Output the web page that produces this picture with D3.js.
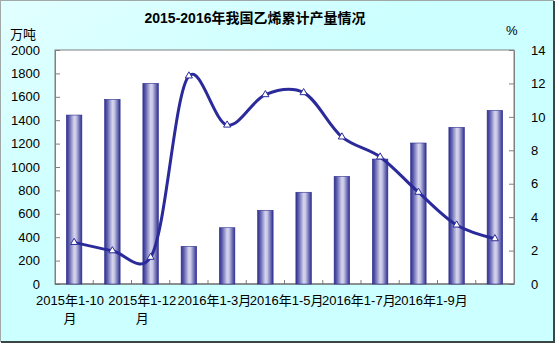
<!DOCTYPE html>
<html>
<head>
<meta charset="utf-8">
<script src="https://cdn.jsdelivr.net/npm/d3@7"></script>
<style>
  body { margin: 0; }
  text { font-family: "Liberation Sans", Arial, "Noto Sans CJK SC", sans-serif; }
</style>
</head>
<body>
<div id="chart"></div>
<script>
const months = ["2015年1-10月", "2015年1-11月", "2015年1-12月", "2016年1-2月", "2016年1-3月", "2016年1-4月",
                "2016年1-5月", "2016年1-6月", "2016年1-7月", "2016年1-8月", "2016年1-9月", "2016年1-10月"];
const output = [1444, 1578, 1715, 322, 481, 630, 784, 920, 1068, 1205, 1339, 1484];
const growth = [2.49, 1.99, 1.6, 12.45, 9.51, 11.33, 11.45, 8.8, 7.6, 5.49, 3.53, 2.71];
const leftTicks = [0, 200, 400, 600, 800, 1000, 1200, 1400, 1600, 1800, 2000];
const rightTicks = [0, 2, 4, 6, 8, 10, 12, 14];
const shownLabels = [["2015年1-10", "月"], ["2015年1-12", "月"], ["2016年1-3月"], ["2016年1-5月"], ["2016年1-7月"], ["2016年1-9月"]];

const W = 555, H = 343;
const margin = { top: 50, right: 41, bottom: 59, left: 55 };
const width = W - margin.left - margin.right;
const height = H - margin.top - margin.bottom;

const root = d3.select("#chart").append("svg")
    .attr("width", W)
    .attr("height", H);

const defs = root.append("defs");
const bg = defs.append("linearGradient").attr("id", "bg")
    .attr("x1", "0").attr("y1", "0").attr("x2", "1").attr("y2", "1");
bg.append("stop").attr("offset", "0%").attr("stop-color", "#e2ffff");
bg.append("stop").attr("offset", "40%").attr("stop-color", "#ccffff");
bg.append("stop").attr("offset", "100%").attr("stop-color", "#ccffff");

const barGrad = defs.append("linearGradient").attr("id", "barGrad")
    .attr("x1", "0").attr("y1", "0").attr("x2", "1").attr("y2", "0");
[["0%", "#2e2e90"], ["18%", "#6060ae"], ["50%", "#d4d4ee"], ["62%", "#c8c8e6"], ["85%", "#6868b2"], ["100%", "#2e2e90"]]
    .forEach(s => barGrad.append("stop").attr("offset", s[0]).attr("stop-color", s[1]));

// outer frame
root.append("rect").attr("x", 0.5).attr("y", 0.5).attr("width", W - 2).attr("height", H - 2)
    .attr("fill", "url(#bg)").attr("stroke", "#a0a8a8");
root.append("path").attr("d", `M1,${H - 1}H${W - 1}V1`).attr("fill", "none")
    .attr("stroke", "#3c4444").attr("stroke-width", 2);

root.append("text")
    .attr("x", 255).attr("y", 23)
    .attr("text-anchor", "middle")
    .attr("font-size", 14).attr("font-weight", "bold")
    .text("2015-2016年我国乙烯累计产量情况");

root.append("text").attr("x", 10).attr("y", 39).attr("font-size", 13).text("万吨");
root.append("text").attr("x", 506).attr("y", 35).attr("font-size", 13).text("%");

const svg = root.append("g").attr("transform", `translate(${margin.left},${margin.top})`);

svg.append("rect").attr("width", width).attr("height", height)
    .attr("fill", "#fff").attr("stroke", "#808080");

const x = d3.scaleBand().domain(months).range([0, width]).padding(0);
const yL = d3.scaleLinear().domain([0, 2000]).range([height, 0]);
const yR = d3.scaleLinear().domain([0, 14]).range([height, 0]);

// left axis
const leftAxis = svg.append("g")
    .call(d3.axisLeft(yL).tickValues(leftTicks).tickFormat(d3.format("d"))
        .tickSizeInner(-5).tickSizeOuter(0).tickPadding(15));
leftAxis.select(".domain").attr("stroke", "#808080");
leftAxis.selectAll("line").attr("stroke", "#808080");
leftAxis.selectAll("text").attr("font-size", 13).attr("fill", "#000");

// right axis
const rightAxis = svg.append("g").attr("transform", `translate(${width},0)`)
    .call(d3.axisRight(yR).tickValues(rightTicks).tickFormat(d3.format("d"))
        .tickSizeInner(-5).tickSizeOuter(0).tickPadding(17));
rightAxis.select(".domain").attr("stroke", "#808080");
rightAxis.selectAll("line").attr("stroke", "#808080");
rightAxis.selectAll("text").attr("font-size", 13).attr("fill", "#000");

// bottom ticks at category boundaries
svg.append("g").selectAll("line")
    .data(months.slice(1))
    .enter().append("line")
    .attr("x1", d => x(d)).attr("x2", d => x(d))
    .attr("y1", height).attr("y2", height - 4)
    .attr("stroke", "#808080");
svg.append("line").attr("x1", 0).attr("x2", width).attr("y1", height).attr("y2", height)
    .attr("stroke", "#606060");

// bars
const barW = 15.5;
svg.selectAll(".bar")
    .data(output)
    .enter().append("rect")
    .attr("class", "bar")
    .attr("x", (d, i) => x(months[i]) + x.bandwidth() / 2 - barW / 2)
    .attr("y", d => yL(d))
    .attr("width", barW)
    .attr("height", d => height - yL(d))
    .attr("fill", "url(#barGrad)")
    .attr("stroke", "#2e2e90").attr("stroke-width", 0.6);

// line
const line = d3.line()
    .x((d, i) => x(months[i]) + x.bandwidth() / 2)
    .y(d => yR(d))
    .curve(d3.curveCatmullRom.alpha(0.2));
svg.append("path").datum(growth)
    .attr("d", line)
    .attr("fill", "none")
    .attr("stroke", "#2a2a9a")
    .attr("stroke-width", 3);

const tri = d3.symbol().type(d3.symbolTriangle).size(22);
svg.selectAll(".mark")
    .data(growth)
    .enter().append("path")
    .attr("class", "mark")
    .attr("d", tri)
    .attr("transform", (d, i) => `translate(${x(months[i]) + x.bandwidth() / 2},${yR(d)})`)
    .attr("fill", "#fff")
    .attr("stroke", "#2a2a9a")
    .attr("stroke-width", 1);

// category labels (every other one, Excel squeezes them slightly left)
const labelX = d3.scalePoint().domain(d3.range(shownLabels.length)).range([15, 376]);
const lab = svg.append("g").selectAll("text")
    .data(shownLabels)
    .enter().append("text")
    .attr("x", (d, i) => labelX(i))
    .attr("y", height + 21)
    .attr("text-anchor", "middle")
    .attr("font-size", 13);
lab.selectAll("tspan")
    .data(d => d)
    .enter().append("tspan")
    .attr("x", function() { return d3.select(this.parentNode).attr("x"); })
    .attr("dy", (d, i) => i === 0 ? 0 : 18)
    .text(d => d);
</script>
</body>
</html>
